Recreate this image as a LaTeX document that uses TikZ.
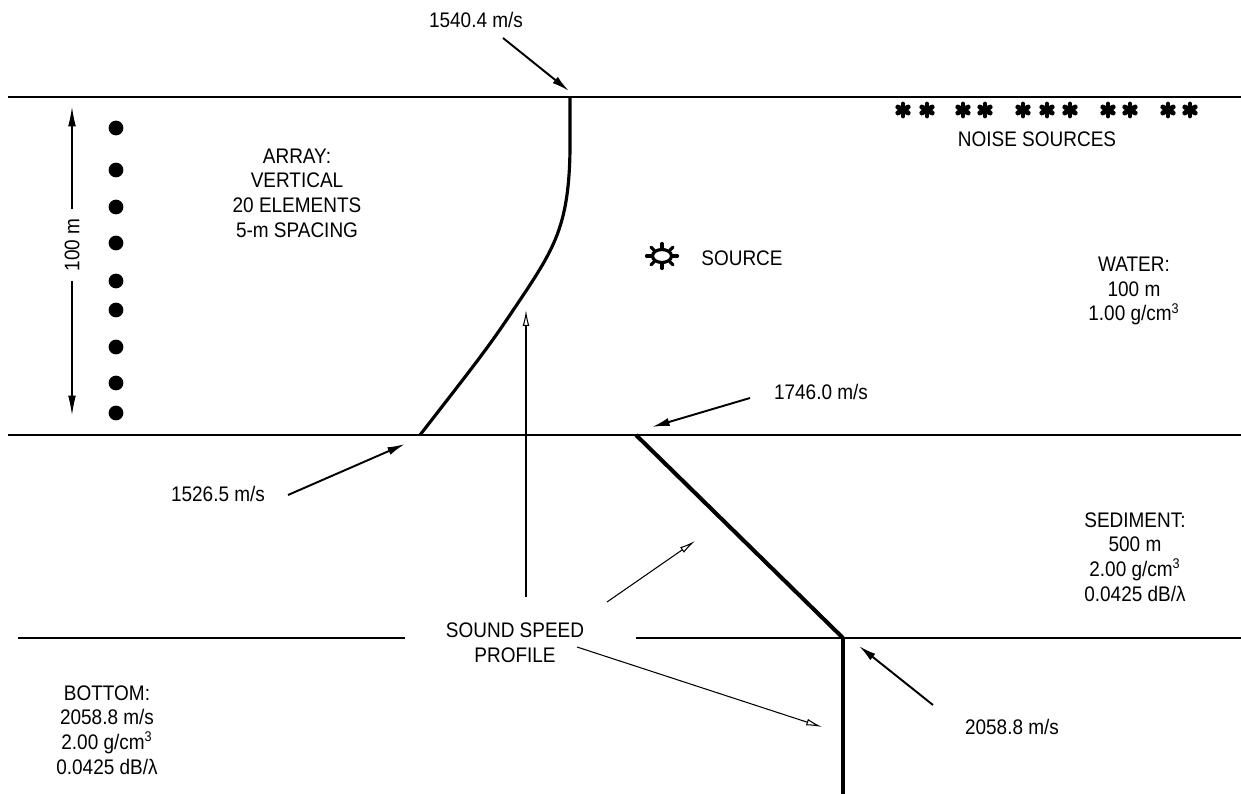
\documentclass[tikz,border=0pt]{standalone}
\usepackage{fontspec}
\setmainfont{Liberation Sans}[FakeStretch=0.9]
\usetikzlibrary{arrows.meta}
\tikzset{
  layer/.style={line width=1.4pt},
  profile/.style={line width=1.8pt, line join=round},
  callout/.style={line width=1.1pt, -{Latex[length=10pt,width=4.6pt]}},
  pointer/.style={line width=0.6pt, -{Latex[open,length=9pt,width=3.8pt]}},
  dimarrow/.style={line width=0.6pt, -{Latex[length=11pt,width=4.4pt]}},
  elem/.style={circle, fill, inner sep=0pt, minimum size=8.4pt},
  starline/.style={line width=2.8pt, line cap=round},
  lbl/.style={align=center, font=\fontsize{12}{14}\selectfont, inner sep=1pt}
}
\begin{document}
\begin{tikzpicture}[x=0.02cm,y=-0.02cm]
\useasboundingbox (0,0) rectangle (1241,794);

% layer boundaries
\draw[layer] (8,97) -- (1241,97);
\draw[layer] (8,435) -- (1241,435);
\draw[layer] (18,638) -- (405,638);
\draw[layer] (636,638) -- (1241,638);

% sound speed profile
\coordinate (cw0) at (570,97);
\coordinate (cw1) at (420,435);
\coordinate (cs0) at (636,435);
\coordinate (cs1) at (843,638);
\draw[profile] (cw0) -- (570,150) .. controls (569,220) and (556,245) .. (528,288) .. controls (490,345) .. (cw1);
\draw[profile, line width=2.3pt] (cs0) -- (cs1);
\draw[profile] (cs1) -- (843,794);

% array elements
\foreach \y [count=\i] in {128,170,207,243,281,310,347,383,413}
  \node[elem] (e\i) at (116,\y) {};
\node[lbl, rotate=90, inner xsep=5pt] (span) at (72,245) {100 m};
\coordinate (spantop) at (72,107);
\coordinate (spanbot) at (72,415);
\draw[dimarrow] (span.east) -- (spantop);
\draw[dimarrow] (span.west) -- (spanbot);

% noise sources
\foreach \x in {903,927,963,985,1023,1047,1070,1108,1130,1168,1190}
  \foreach \a in {90,30,150}
    \draw[starline] (\x,110) ++(\a:6) -- ++(\a+180:12);
\node[lbl] (noise) at (1037,139) {NOISE SOURCES};

% source
\coordinate (src) at (662,256);
\draw[line width=1.8pt] (src) ellipse [x radius=9.5, y radius=6.5];
\foreach \a in {0,45,...,315}
  \draw[line width=1.8pt, line cap=round] (src) ++(\a:10.5 and 7.5) -- ++(\a:5);
\node[lbl] (srclbl) at (742,258) {SOURCE};

% labels
\node[lbl] (arraylbl) at (297,193) {ARRAY:\\VERTICAL\\20 ELEMENTS\\5-m SPACING};
\node[lbl] (waterlbl) at (1134,291) {WATER:\\100 m\\1.00 g/cm\textsuperscript{3}};
\node[lbl] (sedlbl) at (1135,557) {SEDIMENT:\\500 m\\2.00 g/cm\textsuperscript{3}\\0.0425 dB/λ};
\node[lbl] (botlbl) at (107,730) {BOTTOM:\\2058.8 m/s\\2.00 g/cm\textsuperscript{3}\\0.0425 dB/λ};
\node[lbl] (ssp) at (515,643) {SOUND SPEED\\PROFILE};

% speed values
\node[lbl] (v1540) at (476,20) {1540.4 m/s};
\node[lbl] (v1746) at (821,392) {1746.0 m/s};
\node[lbl] (v1526) at (218,494) {1526.5 m/s};
\node[lbl] (v2058) at (1012,727) {2058.8 m/s};
\coordinate (a1540) at (503,38);
\coordinate (t1540) at (569,91);
\coordinate (a1746) at (750,398);
\coordinate (t1746) at (652,427);
\coordinate (a1526) at (288,495);
\coordinate (t1526) at (405,444);
\coordinate (a2058) at (933,705);
\coordinate (t2058) at (859,646);
\draw[callout] (a1540) -- (t1540);
\draw[callout] (a1746) -- (t1746);
\draw[callout] (a1526) -- (t1526);
\draw[callout] (a2058) -- (t2058);

% profile pointers
\coordinate (p1) at (526,597);
\coordinate (q1) at (526,310);
\coordinate (p2) at (607,602);
\coordinate (q2) at (695,541);
\coordinate (p3) at (577,647);
\coordinate (q3) at (822,727);
\draw[pointer] (p1) -- (q1);
\draw[pointer] (p2) -- (q2);
\draw[pointer] (p3) -- (q3);
\end{tikzpicture}
\end{document}
